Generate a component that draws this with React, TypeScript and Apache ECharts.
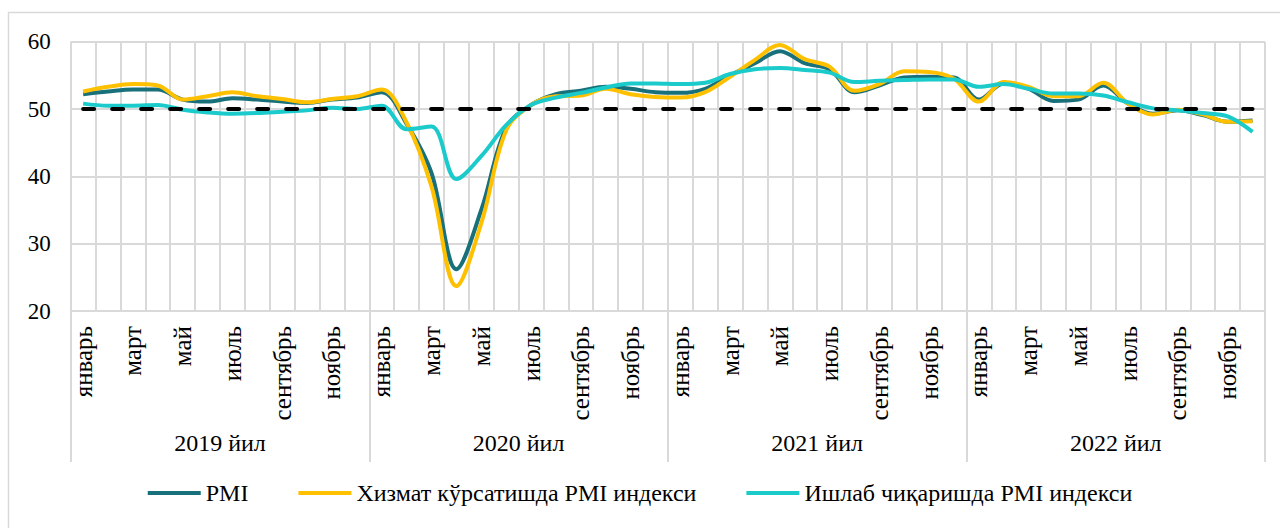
import React, { useEffect, useRef } from "react";
import * as echarts from "echarts";

const years = ["2019 йил", "2020 йил", "2021 йил", "2022 йил"];
const monthNames = [
  "январь", "февраль", "март", "апрель", "май", "июнь",
  "июль", "август", "сентябрь", "октябрь", "ноябрь", "декабрь",
];
const yTicks = { min: 20, max: 60, interval: 10 };
const thresholdValue = 50;

const pmi = [
  52.2, 52.6, 52.9, 52.9, 51.4, 51.1, 51.6, 51.4, 51.1, 50.9, 51.4, 51.7,
  52.5, 47.8, 40.5, 26.2, 35.0, 47.2, 50.6, 52.2, 52.7, 53.3, 53.0, 52.5,
  52.4, 53.0, 55.0, 56.8, 58.6, 56.8, 55.9, 52.5, 53.5, 54.7, 54.8, 54.7,
  51.4, 53.8, 53.0, 51.2, 51.4, 53.5, 50.8, 49.3, 49.8, 49.1, 48.1, 48.3,
];
const services = [
  52.6, 53.3, 53.7, 53.5, 51.4, 51.9, 52.5, 51.9, 51.5, 51.0, 51.5, 51.9,
  52.9, 48.0, 38.5, 23.7, 33.0, 46.8, 50.6, 51.9, 52.0, 53.0, 52.2, 51.8,
  51.7, 52.5, 54.8, 57.3, 59.5, 57.4, 56.3, 52.7, 53.7, 55.6, 55.5, 54.5,
  51.1, 54.0, 53.3, 51.9, 51.9, 53.9, 50.8, 49.2, 49.9, 49.2, 48.1, 48.2,
];
const manufacturing = [
  50.8, 50.5, 50.5, 50.6, 49.9, 49.5, 49.3, 49.4, 49.6, 49.8, 50.2, 50.0,
  50.5, 47.0, 47.4, 39.6, 43.0, 47.6, 50.6, 51.7, 52.4, 53.2, 53.8, 53.8,
  53.7, 53.9, 55.2, 55.9, 56.1, 55.8, 55.4, 54.0, 54.2, 54.3, 54.4, 54.4,
  53.3, 53.7, 53.0, 52.3, 52.3, 52.0, 51.0, 50.1, 49.8, 49.4, 48.9, 46.6,
];

const seriesNames = [
  "PMI",
  "Хизмат кўрсатишда PMI индекси",
  "Ишлаб чиқаришда PMI индекси",
];
const colors = ["#17707A", "#FFC000", "#1BCACA"];

const categories: string[] = [];
years.forEach((y) => monthNames.forEach((m) => categories.push(y + "|" + m)));

const FONT = "Liberation Serif, Times New Roman, serif";
const GRID_COLOR = "#D9D9D9";

export default function App() {
  const ref = useRef<HTMLDivElement>(null);
  useEffect(() => {
    if (!ref.current) return;
    const chart = echarts.init(ref.current, undefined, { renderer: "svg" });
    const lineSeries = [pmi, services, manufacturing].map((d, i) => ({
      name: seriesNames[i],
      type: "line",
      data: d,
      smooth: 0.35,
      symbol: "none",
      lineStyle: { width: 4, color: colors[i] },
      itemStyle: { color: colors[i] },
      z: 2 + i,
    }));
    chart.setOption({
      animation: false,
      backgroundColor: "#fff",
      textStyle: { fontFamily: FONT, color: "#000" },
      graphic: [
        {
          type: "rect",
          shape: { x: 8.5, y: 12.5, width: 1300, height: 600 },
          style: { fill: "none", stroke: GRID_COLOR, lineWidth: 1.5 },
          silent: true,
          z: -10,
        },
      ],
      legend: {
        bottom: 18,
        left: "center",
        itemWidth: 53,
        itemHeight: 4,
        itemGap: 50,
        icon: "rect",
        data: seriesNames,
        textStyle: { fontFamily: FONT, fontSize: 24, color: "#000" },
      },
      grid: { left: 70.7, right: 15, top: 41.7, bottom: 217 },
      xAxis: [
        {
          type: "category",
          data: categories,
          boundaryGap: true,
          axisLine: { show: true, lineStyle: { color: GRID_COLOR, width: 2 } },
          axisTick: { show: false },
          splitLine: {
            show: true,
            interval: 0,
            lineStyle: { color: GRID_COLOR, width: 2 },
          },
          axisLabel: {
            interval: 1,
            rotate: 90,
            margin: 15,
            fontSize: 25,
            fontFamily: FONT,
            color: "#000",
            formatter: (v: string) => v.split("|")[1],
          },
        },
        {
          type: "category",
          data: years,
          position: "bottom",
          boundaryGap: true,
          axisLine: { show: false },
          axisTick: {
            show: true,
            interval: 0,
            length: 151,
            lineStyle: { color: GRID_COLOR, width: 2 },
          },
          axisLabel: {
            interval: 0,
            margin: 120,
            fontSize: 24,
            fontFamily: FONT,
            color: "#000",
          },
          splitLine: { show: false },
        },
      ],
      yAxis: {
        type: "value",
        min: yTicks.min,
        max: yTicks.max,
        interval: yTicks.interval,
        axisLine: { show: false },
        axisTick: { show: false },
        axisLabel: {
          margin: 20,
          fontSize: 23,
          fontFamily: FONT,
          color: "#000",
        },
        splitLine: { show: true, lineStyle: { color: GRID_COLOR, width: 2 } },
      },
      series: [
        ...lineSeries,
        {
          name: "threshold",
          type: "line",
          data: [],
          z: 10,
          markLine: {
            silent: true,
            symbol: "none",
            label: { show: false },
            lineStyle: {
              color: "#000",
              width: 4,
              type: [11, 18],
              cap: "round",
            },
            data: [
              [
                { coord: [categories[0], thresholdValue] },
                { coord: [categories[categories.length - 1], thresholdValue] },
              ],
            ],
          },
        },
      ],
    });
    return () => chart.dispose();
  }, []);
  return (
    <div
      ref={ref}
      style={{ position: "fixed", left: 0, top: 0, width: 1280, height: 528 }}
    />
  );
}
